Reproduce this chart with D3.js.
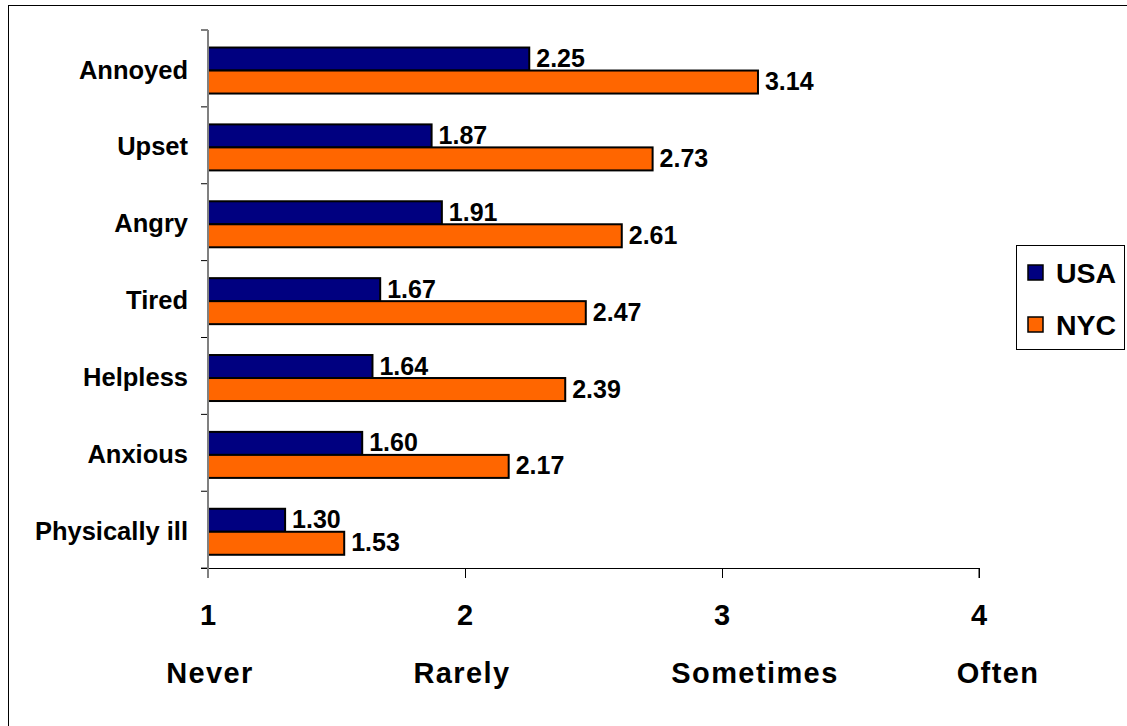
<!DOCTYPE html>
<html>
<head>
<meta charset="utf-8">
<script src="https://cdn.jsdelivr.net/npm/d3@7"></script>
<style>
  html, body { margin: 0; padding: 0; background: #fff; }
  svg { display: block; }
  text { font-family: "Liberation Sans", Arial, sans-serif; font-weight: bold; fill: #000; }
</style>
</head>
<body>
<svg id="chart" width="1127" height="726"></svg>
<script>
// Feelings and how often they are felt, on a 1 (Never) to 4 (Often) scale
const categories = ["Annoyed", "Upset", "Angry", "Tired", "Helpless", "Anxious", "Physically ill"];
const seriesNames = ["USA", "NYC"];
const usaValues = [2.25, 1.87, 1.91, 1.67, 1.64, 1.60, 1.30];
const nycValues = [3.14, 2.73, 2.61, 2.47, 2.39, 2.17, 1.53];
const tickValues = [1, 2, 3, 4];
const tickWords = ["Never", "Rarely", "Sometimes", "Often"];

const colors = { USA: "#000080", NYC: "#FF6600" };
const seriesValues = { USA: usaValues, NYC: nycValues };

const svg = d3.select("#chart");

// outer frame
svg.append("rect")
  .attr("x", 8.5).attr("y", 5.5)
  .attr("width", 1400).attr("height", 1000)
  .attr("fill", "none").attr("stroke", "#000").attr("stroke-width", 1);

const plot = { left: 208, right: 979, top: 30, bottom: 568 };

const x = d3.scaleLinear().domain([1, 4]).range([plot.left, plot.right]);
const y = d3.scaleBand().domain(categories)
  .range([plot.top, plot.bottom])
  .paddingInner(0.4015).paddingOuter(0.2).align(0.57);
const ySub = d3.scaleBand().domain(seriesNames).range([0, y.bandwidth()]);
const step = y.step();

// category axis: ticks between categories
const yTicks = d3.range(categories.length + 1).map(i => plot.top + i * step);
svg.append("g").selectAll("line").data(yTicks).join("line")
  .attr("x1", plot.left - 7).attr("x2", plot.left)
  .attr("y1", d => d).attr("y2", d => d)
  .attr("stroke", "#000").attr("stroke-width", 1);

// bars
const groups = svg.append("g").selectAll("g").data(categories).join("g")
  .attr("transform", c => `translate(0,${y(c)})`);

seriesNames.forEach(s => {
  groups.append("rect")
    .attr("x", plot.left)
    .attr("y", ySub(s))
    .attr("width", (c, i) => x(seriesValues[s][i]) - plot.left)
    .attr("height", ySub.bandwidth())
    .attr("fill", colors[s])
    .attr("stroke", "#000").attr("stroke-width", 2);

  groups.append("text")
    .attr("x", (c, i) => x(seriesValues[s][i]) + 7)
    .attr("y", ySub(s) + ySub.bandwidth() / 2 + 8)
    .attr("font-size", 25)
    .text((c, i) => d3.format(".2f")(seriesValues[s][i]));
});

// category labels
svg.append("g").selectAll("text").data(categories).join("text")
  .attr("x", 188)
  .attr("y", c => y(c) + y.bandwidth() / 2 + 8)
  .attr("text-anchor", "end")
  .attr("font-size", 25.5)
  .text(c => c);

// value axis
const xAxis = d3.axisBottom(x).tickValues(tickValues).tickSize(10).tickFormat("");
const gx = svg.append("g").attr("transform", `translate(0,${plot.bottom})`).call(xAxis);
gx.select(".domain").attr("d", `M${plot.left - 7},0.5H${plot.right}V10`).attr("stroke", "#000");
gx.selectAll(".tick line").attr("stroke", "#000");

svg.append("line")
  .attr("x1", plot.left).attr("x2", plot.left)
  .attr("y1", plot.top).attr("y2", plot.bottom + 10)
  .attr("stroke", "#808080").attr("stroke-width", 2);

svg.append("g").selectAll("text").data(tickValues).join("text")
  .attr("x", d => x(d))
  .attr("y", 625)
  .attr("text-anchor", "middle")
  .attr("font-size", 29)
  .text(d => d);

// scale words under the numbers
const wordShift = [2, -3, 33, 19];
svg.append("g").selectAll("text").data(tickWords).join("text")
  .attr("x", (w, i) => x(tickValues[i]) + wordShift[i])
  .attr("y", 683)
  .attr("text-anchor", "middle")
  .attr("font-size", 29)
  .attr("letter-spacing", 1.4)
  .text(w => w);

// legend
const legend = svg.append("g").attr("transform", "translate(1016,245)");
legend.append("rect")
  .attr("x", 0.5).attr("y", 0.5).attr("width", 108).attr("height", 104)
  .attr("fill", "#fff").attr("stroke", "#000").attr("stroke-width", 1);
seriesNames.forEach((s, i) => {
  const row = legend.append("g").attr("transform", `translate(12,${20 + i * 52})`);
  row.append("rect").attr("width", 15).attr("height", 15)
    .attr("fill", colors[s]).attr("stroke", "#000").attr("stroke-width", 1.5);
  row.append("text").attr("x", 28).attr("y", 18)
    .attr("font-size", 28.5)
    .text(s);
});
</script>
</body>
</html>
